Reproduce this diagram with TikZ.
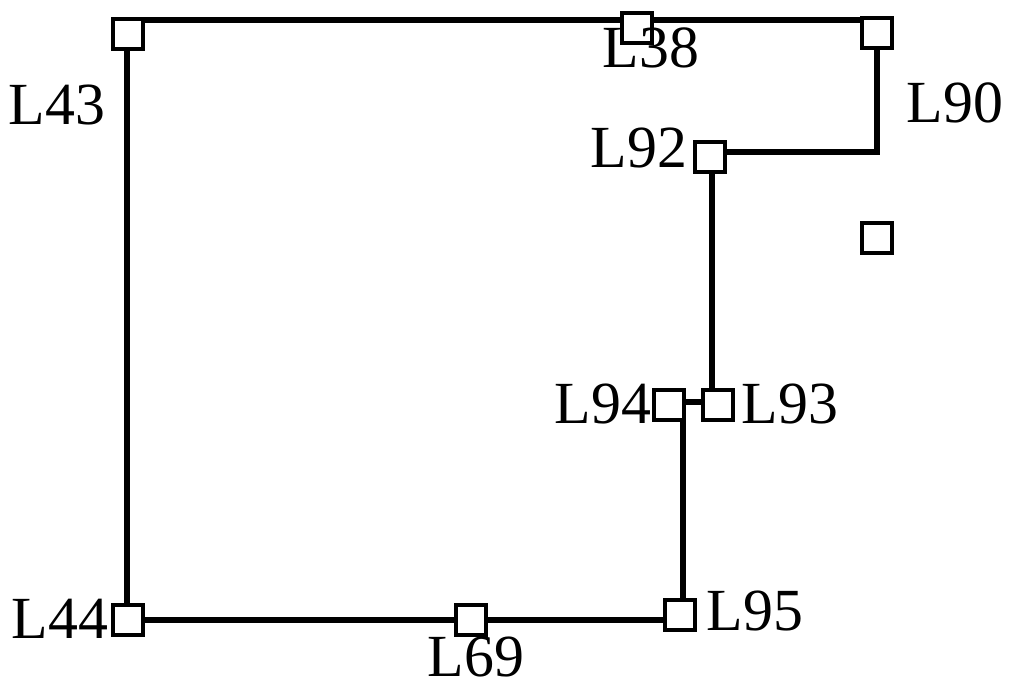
\documentclass[tikz,border=0pt]{standalone}
\usepackage{fontspec}
\setmainfont{Liberation Serif}

\tikzset{
  box/.style={draw, fill=white, line width=1pt, minimum size=0.3cm, inner sep=0pt},
  lbl/.style={font=\fontsize{17}{20}\selectfont, inner sep=0pt},
  wire/.style={line width=1.6pt}
}

\begin{document}
\begin{tikzpicture}[x=0.01cm,y=-0.01cm]
        \useasboundingbox (0,0) rectangle (1010,687);

        % corners of the loop
        \coordinate (c1) at (127,20);
        \coordinate (c2) at (877,20);
        \coordinate (c3) at (877,152);
        \coordinate (c4) at (712,152);
        \coordinate (c5) at (712,402);
        \coordinate (c6) at (683,402);
        \coordinate (c7) at (683,620);
        \coordinate (c8) at (127,620);
        \draw[wire] (c1) -- (c2) -- (c3) -- (c4) -- (c5) -- (c6) -- (c7) -- (c8) -- cycle;

        \node[box] (L43) at (128,34) {};
        \node[box] (L38) at (637,28) {};
        \node[box] (L90) at (877,33) {};
        \node[box] (L92) at (710,157) {};
        \node[box] (Lx) at (877,238) {};
        \node[box] (L94) at (669,405) {};
        \node[box] (L93) at (718,405) {};
        \node[box] (L44) at (128,620) {};
        \node[box] (L69) at (471,620) {};
        \node[box] (L95) at (680,615) {};

        \node[lbl] (t43) at (57,105) {L43};
        \node[lbl] (t38) at (651,48) {L38};
        \node[lbl] (t90) at (955,103) {L90};
        \node[lbl] (t92) at (639,148) {L92};
        \node[lbl] (t94) at (603,404) {L94};
        \node[lbl] (t93) at (790,404) {L93};
        \node[lbl] (t44) at (60,619) {L44};
        \node[lbl] (t69) at (476,657) {L69};
        \node[lbl] (t95) at (755,611) {L95};
    \end{tikzpicture}
\end{document}
